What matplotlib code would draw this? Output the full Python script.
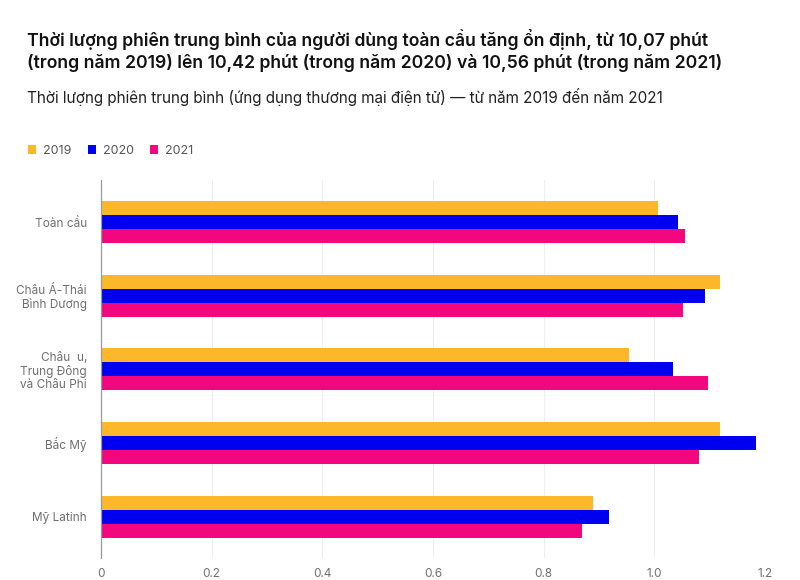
import matplotlib.pyplot as plt
import numpy as np

plt.rcParams["font.family"] = ["Inter", "DejaVu Sans"]

regions = [
    "Toàn cầu",
    "Châu Á-Thái\nBình Dương",
    "Châu  u,\nTrung Đông\nvà Châu Phi",
    "Bắc Mỹ",
    "Mỹ Latinh",
]
years = ["2019", "2020", "2021"]
vals_2019 = [1.007, 1.119, 0.955, 1.119, 0.890]
vals_2020 = [1.042, 1.092, 1.033, 1.183, 0.918]
vals_2021 = [1.056, 1.051, 1.097, 1.081, 0.869]
colors = ["#FDB72B", "#0000F0", "#F2077F"]
xticks = [0, 0.2, 0.4, 0.6, 0.8, 1.0, 1.2]
xtick_labels = ["0", "0.2", "0.4", "0.6", "0.8", "1.0", "1.2"]

fig = plt.figure(figsize=(8, 5.8), dpi=100)
ax = fig.add_axes([101 / 800, 1 - 558 / 580, 664 / 800, 378 / 580])

y = np.arange(len(regions))
h = 0.19
bars = []
for i, (vals, c) in enumerate(zip([vals_2019, vals_2020, vals_2021], colors)):
    b = ax.barh(y + (i - 1) * h, vals, height=h, color=c, label=years[i], zorder=2)
    bars.append(b)

ax.set_ylim(len(regions) - 1 + 0.56, -0.57)
ax.set_xlim(0, 1.2)
ax.set_xticks(xticks)
ax.set_xticklabels(xtick_labels)
ax.set_yticks(y)
ax.set_yticklabels(regions, linespacing=1.1)
ax.tick_params(axis="both", length=0, labelsize=8.5, colors="#6f6f6f")
ax.tick_params(axis="x", pad=7)
ax.tick_params(axis="y", pad=10)
ax.grid(axis="x", color="#eeeeee", linewidth=0.8, zorder=0)
for s in ["top", "right", "bottom"]:
    ax.spines[s].set_visible(False)
ax.spines["left"].set_color("#9a9a9a")
ax.spines["left"].set_linewidth(0.9)

fig.text(27 / 800, 1 - 40 / 580,
         "Thời lượng phiên trung bình của người dùng toàn cầu tăng ổn định, từ 10,07 phút",
         fontsize=12.7, fontweight="semibold", color="#111111", va="center")
fig.text(27 / 800, 1 - 63 / 580,
         "(trong năm 2019) lên 10,42 phút (trong năm 2020) và 10,56 phút (trong năm 2021)",
         fontsize=12.7, fontweight="semibold", color="#111111", va="center")
fig.text(27 / 800, 1 - 97 / 580,
         "Thời lượng phiên trung bình (ứng dụng thương mại điện tử) — từ năm 2019 đến năm 2021",
         fontsize=11, color="#222222", va="center")

fig.legend(handles=bars, labels=years, ncol=3, loc="center left",
           bbox_to_anchor=(17 / 800, 1 - 151 / 580), frameon=False,
           handlelength=0.65, handleheight=0.65, handletextpad=0.55,
           columnspacing=1.3, fontsize=9, labelcolor="#555555")

fig.savefig("out.png", dpi=100)
